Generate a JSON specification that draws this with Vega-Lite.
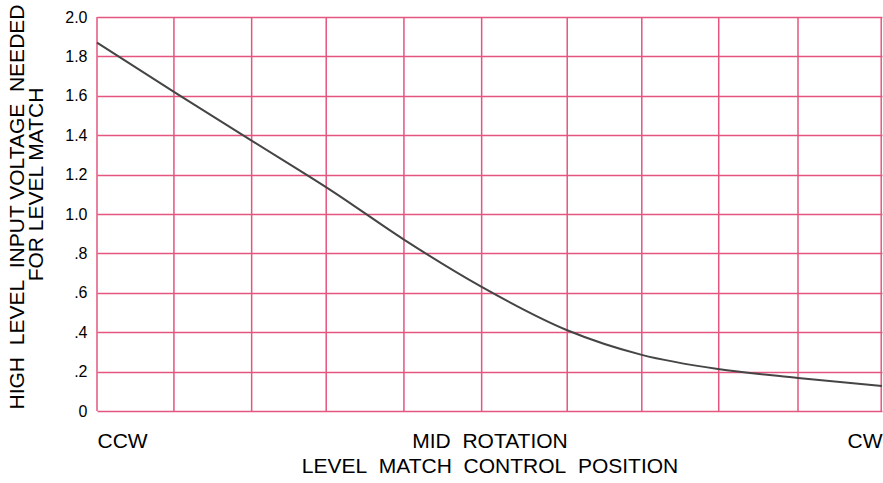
{
  "$schema": "https://vega.github.io/schema/vega-lite/v6.json",
  "width": 785,
  "height": 394,
  "autosize": "none",
  "padding": {"left": 97, "top": 17, "right": 1, "bottom": 72},
  "background": "white",
  "config": {"view": {"stroke": null}, "font": "Liberation Sans"},
  "datasets": {
    "curve": [
      {"pos": 0, "volts": 1.87},
      {"pos": 1, "volts": 1.615},
      {"pos": 2, "volts": 1.365},
      {"pos": 3, "volts": 1.115},
      {"pos": 3.91, "volts": 0.87},
      {"pos": 4.9, "volts": 0.63},
      {"pos": 5.99, "volts": 0.41},
      {"pos": 6.94, "volts": 0.285},
      {"pos": 7.91, "volts": 0.213},
      {"pos": 8.93, "volts": 0.168},
      {"pos": 10, "volts": 0.127}
    ],
    "vgrid": [
      {"gx": 0}, {"gx": 0.98}, {"gx": 1.97}, {"gx": 2.92}, {"gx": 3.91},
      {"gx": 4.9}, {"gx": 5.99}, {"gx": 6.94}, {"gx": 7.92}, {"gx": 8.93}, {"gx": 9.99}
    ]
  },
  "layer": [
    {
      "data": {"name": "vgrid"},
      "mark": {"type": "rule", "color": "#e4557f", "strokeWidth": 1.5},
      "encoding": {
        "x": {"field": "gx", "type": "quantitative", "scale": {"domain": [0, 10], "nice": false, "zero": false}}
      }
    },
    {
      "data": {"name": "curve"},
      "mark": {"type": "line", "color": "#454545", "strokeWidth": 2, "interpolate": "monotone"},
      "encoding": {
        "x": {
          "field": "pos", "type": "quantitative",
          "scale": {"domain": [0, 10], "nice": false, "zero": false},
          "axis": {
            "values": [0, 5, 10],
            "labelExpr": "datum.value == 0 ? 'CCW' : (datum.value == 10 ? 'CW' : 'MID\u00a0 ROTATION')",
            "labelAlign": {"expr": "datum.value == 0 ? 'left' : (datum.value == 10 ? 'right' : 'center')"},
            "labelFontSize": 21,
            "labelColor": "black",
            "labelPadding": 19,
            "ticks": false,
            "domain": false,
            "grid": false,
            "title": "LEVEL\u00a0 MATCH\u00a0 CONTROL\u00a0 POSITION",
            "titleFontSize": 21,
            "titleFontWeight": "normal",
            "titleColor": "black",
            "titlePadding": 4
          }
        },
        "y": {
          "field": "volts", "type": "quantitative",
          "scale": {"domain": [0, 2], "nice": false},
          "axis": {
            "values": [0, 0.2, 0.4, 0.6, 0.8, 1.0, 1.2, 1.4, 1.6, 1.8, 2.0],
            "labelExpr": "datum.value == 0 ? '0' : (datum.value < 0.99 ? replace(format(datum.value, '.1f'), '0.', '.') : format(datum.value, '.1f'))",
            "labelFontSize": 16,
            "labelColor": "black",
            "labelPadding": 10,
            "ticks": false,
            "domain": false,
            "grid": true,
            "gridColor": "#e4557f",
            "gridWidth": 1.5,
            "gridOpacity": 1,
            "title": ["\u2800HIGH\u00a0 LEVEL\u00a0 INPUT VOLTAGE\u00a0 NEEDED", "\u2800\u2800\u2800\u2800FOR LEVEL MATCH"],
            "titleFontSize": 21,
            "titleFontWeight": "normal",
            "titleColor": "black",
            "titleLineHeight": 19,
            "titlePadding": 18
          }
        }
      }
    }
  ]
}
